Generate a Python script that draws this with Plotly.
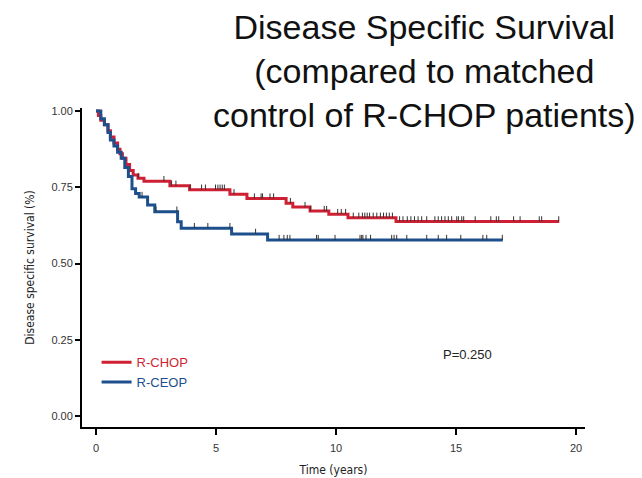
import numpy as np
import plotly.graph_objects as go

# Kaplan-Meier estimates: event times (years) and survival after each event
rchop_times = [0, 0.1, 0.2, 0.35, 0.5, 0.6, 0.75, 0.9, 1.0, 1.1, 1.25, 1.4, 1.55,
               1.75, 2.0, 3.08, 3.9, 5.58, 6.29, 7.92, 8.2, 8.92, 9.7, 10.5, 12.5]
rchop_surv = [1.0, 0.985, 0.97, 0.955, 0.935, 0.915, 0.895, 0.875, 0.86, 0.845,
              0.825, 0.805, 0.79, 0.78, 0.77, 0.755, 0.742, 0.727, 0.713, 0.698,
              0.685, 0.672, 0.662, 0.65, 0.638]
rchop_end = 19.3

rceop_times = [0, 0.2, 0.35, 0.5, 0.6, 0.75, 0.9, 1.05, 1.2, 1.35, 1.5, 1.65, 1.8,
               2.15, 2.45, 3.4, 3.55, 5.65, 7.15]
rceop_surv = [1.0, 0.975, 0.955, 0.93, 0.905, 0.885, 0.865, 0.845, 0.815, 0.785,
              0.745, 0.73, 0.718, 0.692, 0.67, 0.637, 0.616, 0.597, 0.577]
rceop_end = 16.95

# Censored observations (years)
rchop_censor = [1.76, 2.83, 3.15, 3.33, 3.92, 4.4, 4.56, 4.98, 5.08, 5.17, 5.26,
                5.35, 5.75, 6.6, 6.88, 6.94, 7.25, 7.4, 8.1, 8.71, 8.93, 9.51, 9.61,
                10.07, 10.22, 10.4, 10.72, 10.95, 11.1, 11.2, 11.3, 11.4, 11.55,
                11.7, 11.85, 11.98, 12.1, 12.22, 12.35, 12.65, 12.79, 12.97, 13.12,
                13.27, 13.42, 13.57, 13.78, 14.12, 14.26, 14.4, 14.54, 14.68, 14.82,
                15.03, 15.1, 15.24, 15.32, 15.8, 16.45, 16.68, 16.78, 17.4, 17.67,
                18.47, 18.57, 19.28]
rceop_censor = [1.92, 2.5, 3.37, 4.1, 4.66, 5.58, 6.65, 7.63, 7.83, 7.97, 8.08,
                9.19, 9.26, 9.96, 11.0, 11.07, 11.12, 11.25, 11.44, 12.32, 12.42,
                12.53, 12.95, 13.78, 14.26, 14.61, 15.2, 16.12, 16.28, 16.93]

x_ticks = [0, 5, 10, 15, 20]
y_ticks = [0.0, 0.25, 0.5, 0.75, 1.0]
p_value_text = "P=0.250"

RED = "#cf1f33"
BLUE = "#1d4f8c"


def surv_at(times, surv, t):
    idx = np.searchsorted(np.asarray(times), np.asarray(t), side="right") - 1
    return list(np.asarray(surv)[idx])


fig = go.Figure()

for name, color, times, surv, end, cens in [
    ("R-CHOP", RED, rchop_times, rchop_surv, rchop_end, rchop_censor),
    ("R-CEOP", BLUE, rceop_times, rceop_surv, rceop_end, rceop_censor),
]:
    fig.add_trace(go.Scatter(
        x=list(times) + [end], y=list(surv) + [surv[-1]],
        mode="lines", line=dict(color=color, width=3, shape="hv"),
        name=f"<span style='color:{color}'>{name}</span>",
    ))
    # censor marks: short upward ticks on the curve
    fig.add_trace(go.Scatter(
        x=cens, y=surv_at(times, surv, cens), mode="markers",
        marker=dict(size=1, color="rgba(0,0,0,0)"),
        error_y=dict(type="data", symmetric=False,
                     array=[0.017] * len(cens), arrayminus=[0] * len(cens),
                     color="#333333", thickness=1, width=0),
        showlegend=False, hoverinfo="skip",
    ))

fig.add_annotation(
    x=15.46, y=0.203, xref="x", yref="y", text=p_value_text, showarrow=False,
    font=dict(family="Liberation Sans, Arial", size=13, color="#222222"),
)

fig.add_annotation(
    x=0.68, y=1.0, xref="paper", yref="paper", yanchor="top", xanchor="center",
    text="Disease Specific Survival<br>(compared to matched<br>control of R-CHOP patients)",
    showarrow=False, yshift=102,
    font=dict(family="Liberation Sans, Arial", size=34, color="#111111"),
)

axis_font = dict(family="Liberation Sans Narrow, DejaVu Sans Condensed, Arial", size=12,
                 color="#222222")
tick_font = dict(family="Liberation Sans, Arial", size=11, color="#333333")

fig.update_layout(
    width=642, height=478,
    margin=dict(l=82, r=57, t=108, b=51, autoexpand=False),
    paper_bgcolor="white", plot_bgcolor="white",
    showlegend=True,
    legend=dict(x=0.029, y=0.25, xanchor="left", yanchor="top",
                bgcolor="rgba(0,0,0,0)", font=dict(family="Liberation Sans, Arial",
                                                   size=13),
                tracegroupgap=0, itemwidth=30),
    xaxis=dict(range=[-0.583, 20.375], tickvals=x_ticks, showgrid=False,
               zeroline=False, showline=True, linecolor="black", linewidth=2,
               ticks="outside", ticklen=6, tickwidth=2, tickcolor="black",
               tickfont=tick_font, ticklabelstandoff=4, automargin=False,
               title=dict(text="Time (years)", font=axis_font, standoff=12)),
    yaxis=dict(range=[-0.036, 1.01], tickvals=y_ticks, tickformat=".2f",
               showgrid=False, zeroline=False, showline=True, linecolor="black",
               linewidth=2, ticks="outside", ticklen=5, tickwidth=2,
               tickcolor="black", tickfont=tick_font, automargin=False,
               title=dict(text="Disease specific survival (%)", font=axis_font,
                          standoff=14)),
)

fig.write_html("out.html")
